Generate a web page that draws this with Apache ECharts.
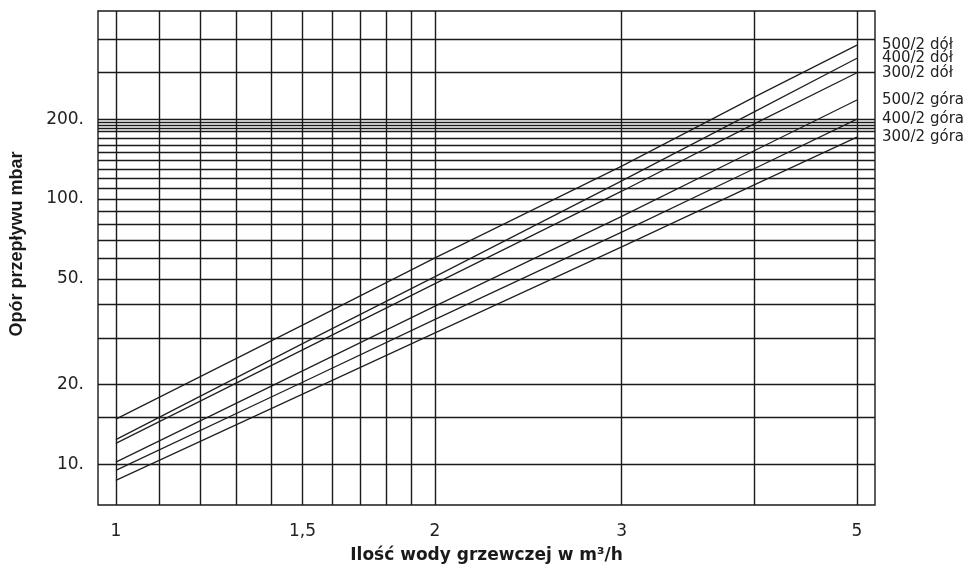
<!DOCTYPE html>
<html>
<head>
<meta charset="utf-8">
<script src="https://cdn.jsdelivr.net/npm/echarts@6/dist/echarts.min.js"></script>
<style>
html, body { margin: 0; padding: 0; background: #fff; }
#main { width: 972px; height: 575px; }
</style>
</head>
<body>
<div id="main"></div>
<script>
// przepływ m3/h
let flow = [1, 1.5, 2, 3, 4, 5]

let names = ['500/2 dół', '400/2 dół', '300/2 dół', '500/2 góra', '400/2 góra', '300/2 góra']

// opór mbar
let dol500 = [14.8, 33.5, 60, 133, 242, 380]
let dol400 = [12.4, 28.5, 51, 117, 213, 339]
let dol300 = [12.0, 27, 48, 107, 192, 299]
let gora500 = [10.2, 22.5, 39.5, 86, 152, 236]
let gora400 = [9.5, 20.4, 35.2, 75, 130, 200]
let gora300 = [8.7, 18.4, 31.3, 66, 113, 171]

let values = [dol500, dol400, dol300, gora500, gora400, gora300]

// linie siatki
let xGrid = [1, 1.1, 1.2, 1.3, 1.4, 1.5, 1.6, 1.7, 1.8, 1.9, 2, 3, 4, 5]
let yGrid = [10, 15, 20, 30, 40, 50, 60, 70, 80, 90, 100, 110, 120, 130, 140, 150, 160, 170, 180, 185, 190, 195, 200, 300, 400]

let xLabels = [1, 1.5, 2, 3, 5]
let yLabels = [10, 20, 50, 100, 200]

let myChart = echarts.init(document.getElementById('main'))

let gridLine = { color: '#1a1a1a', width: 1.4, type: 'solid' }

let series = names.map((name, i) => {
    return {
        name: name,
        type: 'line',
        data: flow.map((x, j) => [x, values[i][j]]),
        showSymbol: false,
        symbol: 'none',
        lineStyle: { color: '#222', width: 1.3 },
        z: 3,
        endLabel: {
            show: true,
            formatter: '{a}',
            distance: 25,
            color: '#222',
            fontFamily: 'DejaVu Sans',
            fontSize: 15
        }
    }
})

// siatka jako markLine
series.push({
    name: 'siatka',
    type: 'line',
    data: [],
    silent: true,
    z: 2,
    markLine: {
        silent: true,
        symbol: 'none',
        animation: false,
        label: { show: false },
        lineStyle: gridLine,
        emphasis: { disabled: true },
        data: xGrid.map(v => ({ xAxis: v })).concat(yGrid.map(v => ({ yAxis: v })))
    }
})

myChart.setOption({
    animation: false,
    grid: {
        left: 96,
        right: 97,
        top: 11,
        bottom: 70,
        show: true,
        borderColor: '#1a1a1a',
        borderWidth: 1.4
    },
    xAxis: {
        type: 'log',
        logBase: 10,
        min: 0.962,
        max: 5.2,
        name: 'Ilość wody grzewczej w m³/h',
        nameLocation: 'middle',
        nameGap: 42,
        nameTextStyle: {
            fontFamily: 'DejaVu Sans',
            fontWeight: 'bold',
            fontSize: 17,
            color: '#1a1a1a'
        },
        axisLine: { show: false },
        axisTick: { show: false },
        splitLine: { show: false },
        minorSplitLine: { show: false },
        axisLabel: {
            customValues: xLabels,
            margin: 18,
            fontFamily: 'DejaVu Sans',
            fontSize: 17,
            color: '#222',
            formatter: v => String(v).replace('.', ',')
        }
    },
    yAxis: {
        type: 'log',
        logBase: 10,
        min: 7.03,
        max: 511,
        name: 'Opór przepływu mbar',
        nameLocation: 'middle',
        nameGap: 72,
        nameTextStyle: {
            fontFamily: 'Liberation Sans',
            fontWeight: 'bold',
            fontSize: 18,
            color: '#1a1a1a',
            padding: [0, 0, 0, 28]
        },
        axisLine: { show: false },
        axisTick: { show: false },
        splitLine: { show: false },
        minorSplitLine: { show: false },
        axisLabel: {
            customValues: yLabels,
            margin: 14,
            fontFamily: 'DejaVu Sans',
            fontSize: 17,
            color: '#222',
            formatter: v => v + '.'
        }
    },
    series: series
})
</script>
</body>
</html>
